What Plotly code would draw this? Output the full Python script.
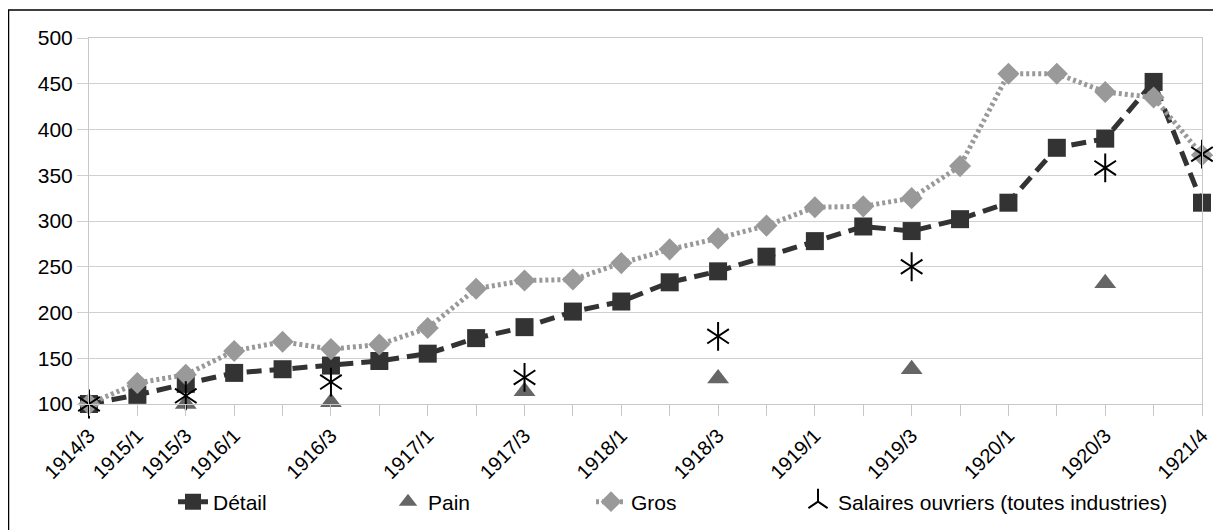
import plotly.graph_objects as go

categories = ["1914/3", "1915/1", "1915/3", "1916/1", "", "1916/3", "", "1917/1", "",
              "1917/3", "", "1918/1", "", "1918/3", "", "1919/1", "", "1919/3", "",
              "1920/1", "", "1920/3", "", "1921/4"]

detail = [100, 110, 122, 134, 138, 142, 147, 155, 172, 184, 201, 212, 233, 245, 261,
          278, 294, 289, 302, 320, 380, 390, 452, 320]
pain = [None, None, 100, None, None, 102, None, None, None, 114, None, None, None, 128,
        None, None, None, 138, None, None, None, 232, None, None]
gros = [100, 123, 132, 158, 168, 160, 165, 183, 226, 235, 236, 254, 269, 281, 295,
        315, 316, 325, 360, 461, 461, 441, 435, 372]
salaires = [100, None, 109, None, None, 124, None, None, None, 129, None, None, None, 174,
            None, None, None, 250, None, None, None, 358, None, 373]

x = list(range(len(categories)))
FONT = "Liberation Sans, Arial, sans-serif"

fig = go.Figure()
fig.add_trace(go.Scatter(x=x, y=detail, name="Détail", mode="lines+markers", legend="legend",
                         line=dict(color="#333333", width=5, dash="15px,8px"),
                         marker=dict(symbol="square", size=18, color="#333333"),
                         cliponaxis=False))
fig.add_trace(go.Scatter(x=x, y=pain, name="Pain", mode="markers", legend="legend2",
                         marker=dict(symbol="triangle-up", size=19, color="#666666"),
                         cliponaxis=False))
fig.add_trace(go.Scatter(x=x, y=gros, name="Gros", mode="lines+markers", legend="legend3",
                         line=dict(color="#999999", width=5, dash="3px,3px"),
                         marker=dict(symbol="diamond", size=17, color="#999999"),
                         cliponaxis=False))
# six-armed asterisk = y-up + y-down
fig.add_trace(go.Scatter(x=x, y=salaires, name="Salaires ouvriers (toutes industries)",
                         mode="markers", legendgroup="sal", legend="legend4",
                         marker=dict(symbol="y-up-open", size=18, color="black",
                                     line=dict(color="black", width=2)),
                         cliponaxis=False))
fig.add_trace(go.Scatter(x=x, y=salaires, name="Salaires ouvriers (toutes industries)",
                         mode="markers", legendgroup="sal", showlegend=False, legend="legend4",
                         marker=dict(symbol="y-down-open", size=18, color="black",
                                     line=dict(color="black", width=2)),
                         cliponaxis=False))

# the page has an 8px body margin; coordinates below are figure pixels
L, R, T, B = 81, 19, 30, 126
W, H = 1213, 522
pw, ph = W - L - R, H - T - B

def px2paper_x(px):
    return (px - L) / pw

def px2paper_y(py):
    return (H - B - py) / ph

fig.add_shape(type="rect", xref="paper", yref="paper",
              x0=px2paper_x(0.5), x1=px2paper_x(1220), y0=px2paper_y(540), y1=px2paper_y(2),
              line=dict(color="black", width=1.5), fillcolor="rgba(0,0,0,0)", layer="below")

def leg(xpx):
    return dict(orientation="h", x=px2paper_x(xpx), xanchor="left",
                y=px2paper_y(494), yanchor="middle",
                font=dict(family=FONT, size=21, color="black"),
                bgcolor="rgba(0,0,0,0)")

fig.update_layout(
    width=W, height=H,
    margin=dict(l=L, r=R, t=T, b=B, autoexpand=False),
    paper_bgcolor="white", plot_bgcolor="white",
    font=dict(family=FONT, size=21, color="black"),
    showlegend=True,
    legend=leg(165), legend2=leg(380), legend3=leg(583), legend4=leg(790),
    xaxis=dict(range=[0, 23], tickmode="array", tickvals=x, ticktext=categories,
               tickangle=-45, ticks="outside", ticklen=11, tickcolor="#c8c8c8",
               showgrid=False, automargin=False,
               showline=True, linecolor="#c8c8c8", mirror=True, zeroline=False,
               tickfont=dict(family=FONT, size=20, color="black")),
    yaxis=dict(range=[100, 500], tickvals=[100, 150, 200, 250, 300, 350, 400, 450, 500],
               ticks="outside", ticklen=11, tickcolor="#d0d0d0", automargin=False,
               showgrid=True, gridcolor="#d0d0d0", gridwidth=1,
               showline=True, linecolor="#c8c8c8", mirror=True, zeroline=False,
               tickfont=dict(family=FONT, size=21, color="black")),
)

fig.write_html("out.html")
